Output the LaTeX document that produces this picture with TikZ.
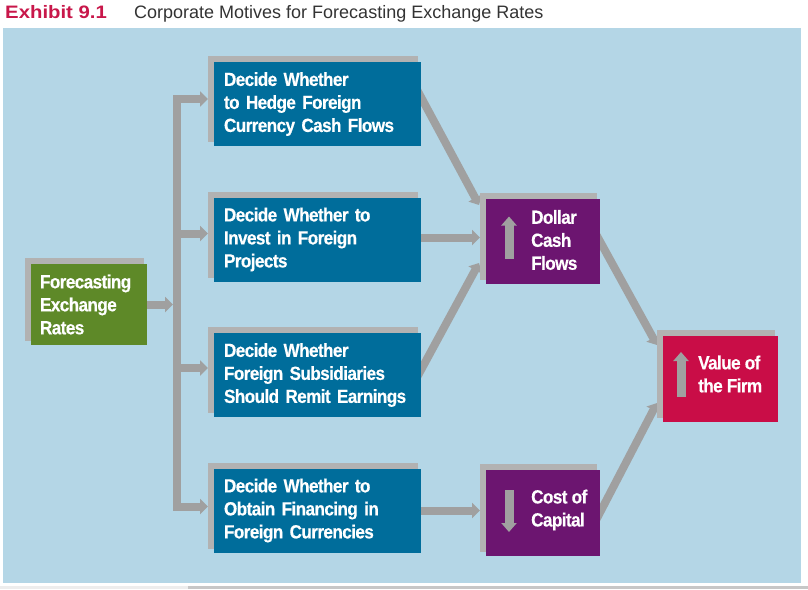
\documentclass[tikz,border=0pt]{standalone}
\usepackage{fontspec}
\setmainfont{Liberation Sans}
\newfontfamily\condfont[FakeStretch=0.9,LetterSpace=-3,FakeBold=0.4]{Liberation Sans}
\newfontfamily\widefont[FakeStretch=1.13]{Liberation Sans}
\usetikzlibrary{arrows.meta,calc}
\definecolor{panel}{HTML}{B4D6E6}
\definecolor{shadowgray}{HTML}{B2B2B2}
\definecolor{conngray}{HTML}{A0A0A0}
\definecolor{boxblue}{HTML}{006D9B}
\definecolor{boxgreen}{HTML}{5E8928}
\definecolor{boxpurple}{HTML}{6C1570}
\definecolor{boxred}{HTML}{C90D47}
\definecolor{exred}{HTML}{C8174A}
\definecolor{titlegray}{HTML}{333333}
\pgfdeclarelayer{bg}
\pgfdeclarelayer{connlayer}
\pgfdeclarelayer{shadowlayer}
\pgfsetlayers{bg,connlayer,shadowlayer,main}
\newcommand\boxfont{\condfont\bfseries\fontsize{19}{23}\selectfont}
\newcommand\boxshadow[1]{\begin{pgfonlayer}{shadowlayer}\fill[shadowgray] ($(#1.north west)+(-6,-6)$) rectangle ($(#1.south east)+(-3.5,-4)$);\end{pgfonlayer}}
\tikzset{
  box/.style={draw=none, outer sep=0pt, anchor=north west, text=white, font=\boxfont},
  bluebox/.style={box, fill=boxblue, minimum width=207pt, minimum height=84pt, text width=187pt, inner xsep=10pt, inner ysep=0pt, align=left},
  greenbox/.style={box, fill=boxgreen, minimum width=116pt, minimum height=81pt, text width=98pt, inner xsep=9pt, inner ysep=0pt, align=left},
  purplebox/.style={box, fill=boxpurple, minimum width=114pt, minimum height=85pt, inner sep=0pt},
  redbox/.style={box, fill=boxred, minimum width=115pt, minimum height=86pt, inner sep=0pt},
  lbl/.style={anchor=west, inner sep=0pt, text=white, font=\boxfont, align=left},
  conn/.style={draw=conngray, line width=8pt, line join=miter, -{Triangle[length=8pt,width=15pt]}},
  inarrow/.style={draw=conngray, line width=9pt, -{Triangle[length=9pt,width=15pt]}},
}
\begin{document}
\begin{tikzpicture}[x=1pt,y=-1pt]
\useasboundingbox (0,0) rectangle (808,589);
\begin{pgfonlayer}{bg}
\fill[panel] (3,28) rectangle (801,583);
\fill[black!7] (0,586) rectangle (188,589);
\fill[black!22] (188,586) rectangle (808,589);
\end{pgfonlayer}
% title
\node[anchor=base west, inner sep=0pt, text=exred, font=\widefont\bfseries\fontsize{18}{18}\selectfont] (ex) at (5,18) {Exhibit 9.1};
\node[anchor=base west, inner sep=0pt, text=titlegray, font=\fontsize{18}{18}\selectfont] (ttl) at (134,18) {Corporate Motives for Forecasting Exchange Rates};
% boxes
\node[greenbox] (fx) at (31,264) {Forecasting\\Exchange\\Rates};
\node[bluebox] (b1) at (214,62) {Decide Whether\\to Hedge Foreign\\Currency Cash Flows};
\node[bluebox] (b2) at (214,197.5) {Decide Whether to\\Invest in Foreign\\Projects};
\node[bluebox] (b3) at (214,333) {Decide Whether\\Foreign Subsidiaries\\Should Remit Earnings};
\node[bluebox] (b4) at (214,468.5) {Decide Whether to\\Obtain Financing in\\Foreign Currencies};
\node[purplebox] (dollar) at (486,199) {};
\node[purplebox, minimum height=86pt] (cost) at (486,470) {};
\node[redbox] (value) at (663,336) {};
\boxshadow{fx}\boxshadow{b1}\boxshadow{b2}\boxshadow{b3}\boxshadow{b4}
\boxshadow{dollar}\boxshadow{cost}\boxshadow{value}
% labels
\node[lbl] (dollarT) at ($(dollar.west)+(45,-1.5)$) {Dollar\\Cash\\Flows};
\node[lbl] (costT) at ($(cost.west)+(45,-3)$) {Cost of\\Capital};
\node[lbl] (valueT) at ($(value.west)+(35,-5)$) {Value of\\the Firm};
% inner arrows
\draw[inarrow] ($(dollar.west)+(23,17.5)$) -- ($(dollar.west)+(23,-25)$);
\draw[inarrow] ($(value.west)+(18,17.5)$) -- ($(value.west)+(18,-27)$);
\draw[inarrow] ($(cost.west)+(23,-23)$) -- ($(cost.west)+(23,19)$);
% connector coordinates
\coordinate (trunkx) at (177,0);
\coordinate (trunkL) at (173,0);
\coordinate (b1in) at ($(b1.west)+(-6,-5)$);
\coordinate (b2in) at ($(b2.west)+(-6,-6)$);
\coordinate (b3in) at ($(b3.west)+(-6,-7)$);
\coordinate (b4in) at ($(b4.west)+(-6,-4)$);
\coordinate (b2out) at ($(b2.east)+(-2,-2)$);
\coordinate (dollarL) at ($(dollar.west)+(-6,0)$);
\coordinate (costL) at ($(cost.west)+(-6,0)$);
\begin{pgfonlayer}{connlayer}
\draw[conn, {Triangle[length=8pt,width=15pt]}-{Triangle[length=8pt,width=15pt]}] (b1in) -- (b1in -| trunkx) -- (b4in -| trunkx) -- (b4in);
\draw[conn] (b2in -| trunkx) -- (b2in);
\draw[conn] (b3in -| trunkx) -- (b3in);
\draw[conn] (fx.east) -- (fx.east -| trunkL);
\draw[conn] ($(b1.east)+(-6,-18)$) -- ($(dollar.north west)+(-7,6)$);
\draw[conn] (b2out) -- (b2out -| dollarL);
\draw[conn] ($(b3.east)+(-6,6)$) -- ($(dollar.south west)+(-7,-21)$);
\draw[conn] ($(dollar.east)+(-6,-11)$) -- ($(value.north west)+(-6,9)$);
\draw[conn] ($(cost.east)+(-6,11)$) -- ($(value.south west)+(-6,-19)$);
\draw[conn] (b4.east) -- (b4.east -| costL);
\end{pgfonlayer}
\end{tikzpicture}
\end{document}
